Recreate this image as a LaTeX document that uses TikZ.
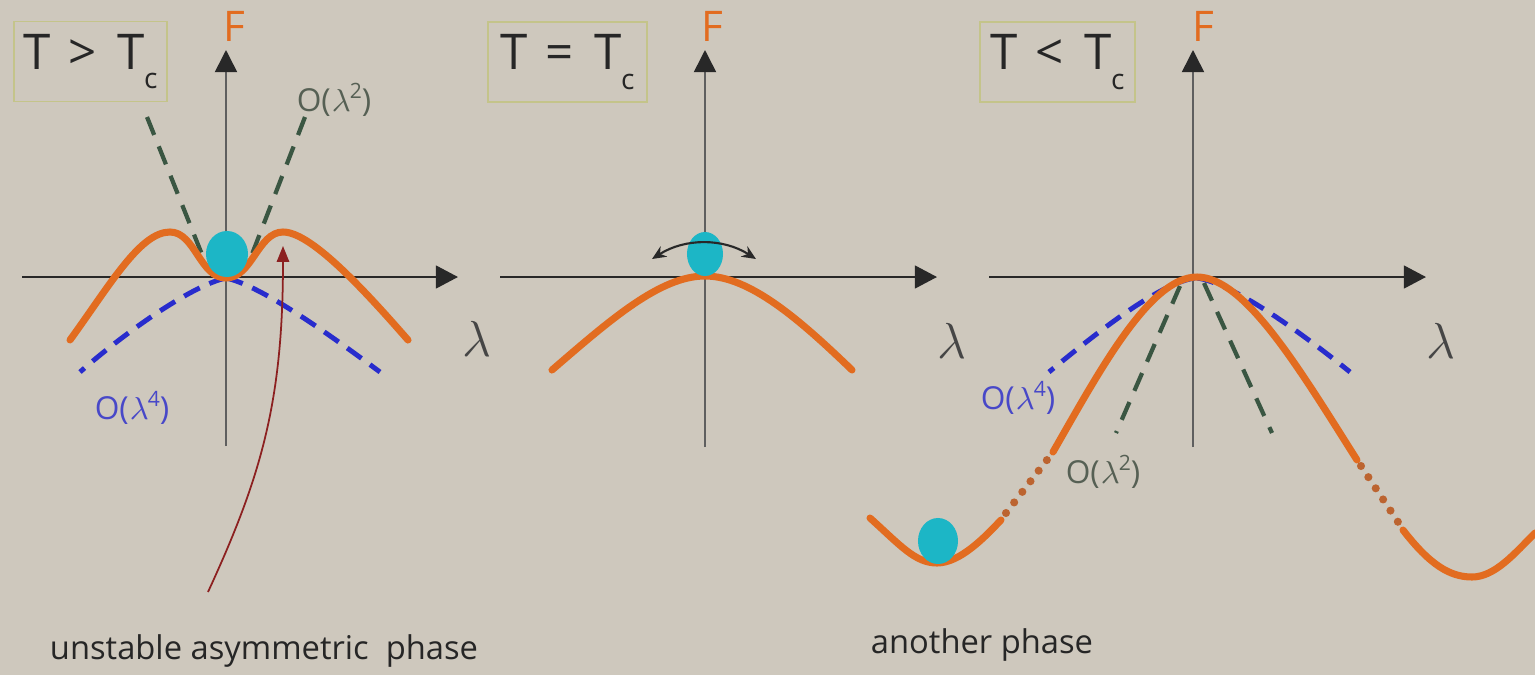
\documentclass[tikz,border=0pt]{standalone}
\usepackage{fontspec}
\setmainfont{Open Sans}
\usetikzlibrary{arrows.meta}
\definecolor{bgc}{RGB}{206,200,189}
\definecolor{orangec}{RGB}{226,108,32}
\definecolor{dotc}{RGB}{188,100,48}
\definecolor{cyanc}{RGB}{28,182,198}
\definecolor{bluec}{RGB}{40,44,205}
\definecolor{greenc}{RGB}{58,86,66}
\definecolor{bluetxt}{RGB}{72,72,200}
\definecolor{greentxt}{RGB}{86,96,84}
\definecolor{boxc}{RGB}{196,196,138}
\definecolor{axisc}{RGB}{40,40,40}
\definecolor{vaxisc}{RGB}{95,95,95}
\definecolor{redc}{RGB}{140,32,32}
\definecolor{txtc}{RGB}{38,38,38}
\definecolor{lamc}{RGB}{70,70,70}
\newcommand{\sqsub}[1]{\kern-0.2pt\raisebox{-0.75ex}{\fontsize{8}{9}\selectfont #1}}
\newcommand{\sqsup}[1]{\raisebox{0.75ex}{\fontsize{6}{7}\selectfont #1}}
\newcommand{\olam}[1]{O(\kern0.3pt$\lambda$\kern-0.3pt\sqsup{#1})}
\newcommand{\tcmp}[1]{T\hspace{5pt}#1\hspace{6pt}T\sqsub{c}}
\begin{document}
\begin{tikzpicture}[x=0.01cm,y=-0.01cm,
  tempbox/.style={draw=boxc,line width=0.45pt,minimum height=0.8cm,inner sep=0pt,text=txtc,font=\fontsize{14}{16}\selectfont},
  flabel/.style={text=orangec,font=\fontsize{12}{14}\selectfont,inner sep=0pt},
  lamlabel/.style={text=lamc,font=\fontsize{13.5}{16}\selectfont,inner sep=0pt},
  haxis/.style={draw=axisc,line width=0.6pt,-{Triangle[length=6.3pt,width=6.5pt]}},
  vaxis/.style={draw=vaxisc,line width=0.45pt,-{Triangle[length=6.3pt,width=6.3pt,color=axisc]}},
  fcurve/.style={draw=orangec,line width=2pt,line cap=round},
  dotseg/.style={draw=dotc,line width=2.3pt,line cap=round,dash pattern=on 0pt off 3.8pt},
  bluedash/.style={draw=bluec,line width=1.4pt,dash pattern=on 5pt off 3pt},
  greendash/.style={draw=greenc,line width=1.2pt,dash pattern=on 5.5pt off 3.5pt},
  olabel/.style={inner sep=0pt,font=\fontsize{9}{11}\selectfont},
  phaselabel/.style={inner sep=0pt,text=txtc,font=\fontsize{9.3}{11}\selectfont},
  ball/.style={fill=cyanc},
  swing/.style={draw=axisc,line width=0.6pt,{Stealth[length=4pt,width=3.5pt]}-{Stealth[length=4pt,width=3.5pt]}},
  pointer/.style={draw=redc,line width=0.5pt,-{Triangle[length=4.5pt,width=3.5pt]}}
]
\useasboundingbox (0,0) rectangle (1535,675);
\fill[bgc] (0,0) rectangle (1535,675);

% ---------- panel 1 : T > Tc
\node[tempbox,minimum width=1.53cm] (box1) at (90.5,61.5) {\tcmp{>}};
\node[flabel] (F1) at (234,26) {F};
\coordinate (v1b) at (226,446);
\coordinate (v1t) at (226,50);
\coordinate (h1l) at (22,277);
\coordinate (h1r) at (458,277);
\draw[vaxis] (v1b) -- (v1t);
\draw[haxis] (h1l) -- (h1r);
\node[lamlabel] (lam1) at (477,339) {$\lambda$};
\draw[greendash] (147,117) -- (205,262);
\draw[greendash] (305,117) -- (249,262);
\draw[bluedash] (226,278) .. controls (190,286) and (122,335) .. (80,372);
\draw[bluedash] (226,278) .. controls (262,286) and (330,335) .. (380,372);
\draw[fcurve] (70,340) .. controls (110,285) and (140,232) .. (170,232)
  .. controls (195,232) and (200,278) .. (226,278)
  .. controls (252,278) and (258,232) .. (283,232)
  .. controls (310,232) and (360,285) .. (408,340);
\fill[ball] (227,254) ellipse [x radius=0.21cm,y radius=0.23cm];
\node[olabel,text=greentxt] (o2a) at (334,100) {\olam{2}};
\node[olabel,text=bluetxt] (o4a) at (132,408) {\olam{4}};
\node[phaselabel] (unst) at (264,651) {unstable asymmetric\ \ phase};
\coordinate (ptr) at (283,246);
\coordinate (ptrs) at (208,592);
\draw[pointer] (ptrs) .. controls (262,475) and (283,400) .. (ptr);

% ---------- panel 2 : T = Tc
\node[tempbox,minimum width=1.59cm] (box2) at (567.5,62) {\tcmp{=}};
\node[flabel] (F2) at (712,26) {F};
\coordinate (v2b) at (705,447);
\coordinate (v2t) at (705,50);
\coordinate (h2l) at (500,277);
\coordinate (h2r) at (937,277);
\draw[vaxis] (v2b) -- (v2t);
\draw[haxis] (h2l) -- (h2r);
\node[lamlabel] (lam2) at (952,341) {$\lambda$};
\draw[fcurve] (552,370) .. controls (610,320) and (660,276) .. (705,276)
  .. controls (750,276) and (800,320) .. (852,370);
\fill[ball] (705,254) ellipse [x radius=0.18cm,y radius=0.22cm];
\coordinate (swl) at (652,259);
\coordinate (swr) at (756,259);
\draw[swing] (swl) .. controls (685,238) and (723,238) .. (swr);

% ---------- panel 3 : T < Tc
\node[tempbox,minimum width=1.55cm] (box3) at (1057.5,62) {\tcmp{<}};
\node[flabel] (F3) at (1203,26) {F};
\coordinate (v3b) at (1193,447);
\coordinate (v3t) at (1193,50);
\coordinate (h3l) at (989,277);
\coordinate (h3r) at (1426,277);
\draw[vaxis] (v3b) -- (v3t);
\draw[haxis] (h3l) -- (h3r);
\node[lamlabel] (lam3) at (1441,341) {$\lambda$};
\draw[greendash] (1180,286) -- (1116,433);
\draw[greendash] (1204,283) -- (1272,433);
\draw[bluedash] (1195,278) .. controls (1160,283) and (1100,330) .. (1049,372);
\draw[bluedash] (1197,278) .. controls (1232,283) and (1298,330) .. (1350,372);
\draw[fcurve] (870,518) .. controls (900,545) and (915,563) .. (937,563)
  .. controls (960,563) and (985,537) .. (1001,520);
\draw[dotseg] (1006,513) -- (1050,456);
\draw[fcurve] (1053,452) .. controls (1100,370) and (1150,277) .. (1197,277)
  .. controls (1245,277) and (1300,370) .. (1357,460);
\draw[dotseg] (1361,466) -- (1400,525);
\draw[fcurve] (1403,530) .. controls (1430,565) and (1450,577) .. (1472,577)
  .. controls (1495,577) and (1515,553) .. (1535,533);
\fill[ball] (938,541) ellipse [x radius=0.20cm,y radius=0.23cm];
\node[olabel,text=bluetxt] (o4b) at (1018,398) {\olam{4}};
\node[olabel,text=greentxt] (o2b) at (1103,472) {\olam{2}};
\node[phaselabel] (anot) at (982,645) {another phase};
\end{tikzpicture}
\end{document}
